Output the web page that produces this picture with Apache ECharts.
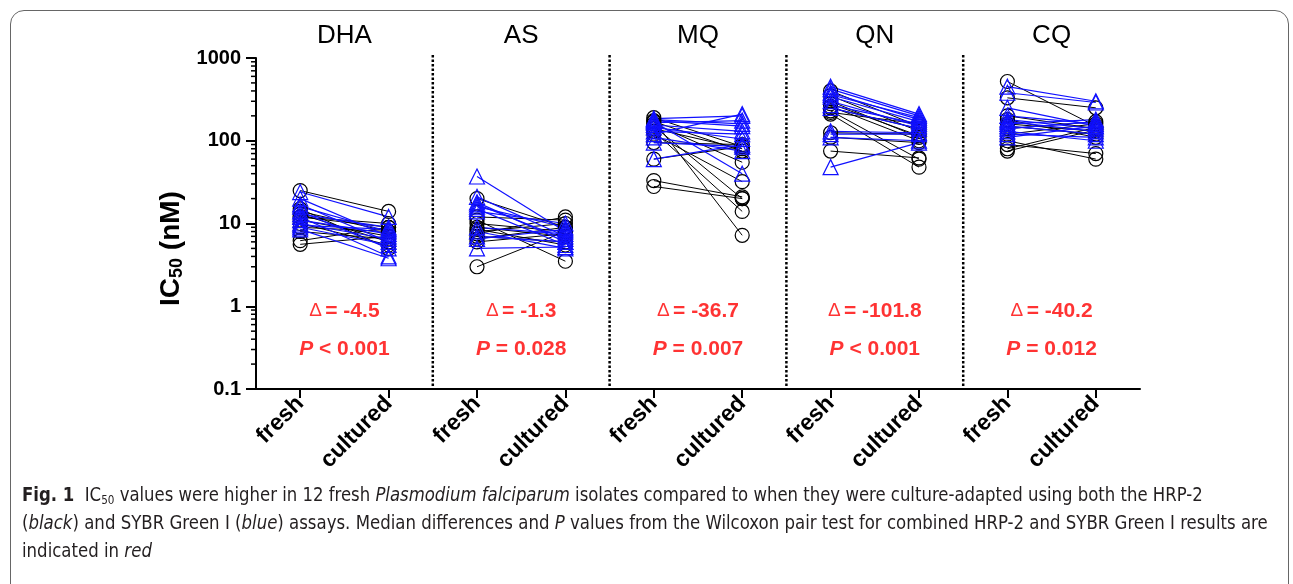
<!DOCTYPE html>
<html>
<head>
<meta charset="utf-8">
<script src="https://cdn.jsdelivr.net/npm/echarts@6/dist/echarts.min.js"></script>
<style>
  html, body { margin: 0; padding: 0; background: #fff; }
  #frame {
    position: absolute; left: 10px; top: 10px; width: 1279px; height: 620px;
    border: 1px solid #666; border-radius: 14px; box-sizing: border-box;
  }
  #chart { position: absolute; left: 0; top: 0; width: 1293px; height: 584px; }
  #caption {
    position: absolute; left: 22px; top: 480px; z-index: 2;
    font-family: "Liberation Sans Narrow", "DejaVu Sans Condensed", "Liberation Sans", sans-serif;
    font-size: 19px; line-height: 28px; color: #231f20;
  }
  #caption .l { white-space: nowrap; transform-origin: 0 50%; }
  #caption sub { font-size: 12px; vertical-align: -3px; line-height: 0; }
</style>
</head>
<body>
<div id="frame"></div>
<div id="chart"></div>
<div id="caption">
  <div class="l" data-w="1241"><b>Fig. 1</b>&nbsp; IC<sub>50</sub> values were higher in 12 fresh <i>Plasmodium falciparum</i> isolates compared to when they were culture-adapted using both the HRP-2</div>
  <div class="l" data-w="1246">(<i>black</i>) and SYBR Green I (<i>blue</i>) assays. Median differences and <i>P</i> values from the Wilcoxon pair test for combined HRP-2 and SYBR Green I results are</div>
  <div class="l">indicated in <i>red</i></div>
</div>
<script>
// groups and the two measurement points in each
const drugs = ['DHA', 'AS', 'MQ', 'QN', 'CQ'];
const conditions = ['fresh', 'cultured'];

// HRP-2 assay (black circles), 12 isolates per drug
const hrpFresh = [
  [25, 14, 12, 11, 13, 10, 9, 12, 8, 6.2, 5.6, 15],
  [20, 12, 10, 9, 8, 7.5, 7, 8.5, 6.5, 11, 6, 3.0],
  [190, 170, 150, 130, 160, 140, 95, 60, 33, 28, 175, 120],
  [400, 350, 300, 260, 230, 210, 250, 125, 110, 75, 220, 280],
  [520, 330, 200, 160, 150, 140, 120, 100, 90, 80, 75, 180]
];
const hrpCultured = [
  [14, 8, 9, 7, 6, 5.5, 8, 10, 6.5, 9, 7, 5],
  [9, 11, 8, 7, 10, 12, 6, 5.5, 9, 3.5, 7.5, 8],
  [85, 75, 20, 14, 55, 80, 90, 85, 21, 20, 7.2, 32],
  [150, 130, 110, 100, 60, 48, 140, 120, 95, 62, 160, 115],
  [150, 250, 140, 130, 120, 170, 160, 60, 70, 145, 135, 110]
];

// SYBR Green I assay (blue triangles)
const sybrFresh = [
  [24, 20, 17, 16, 14, 12, 10, 9, 11, 9.5, 13, 8.5],
  [37, 21, 18, 16, 15, 17, 9, 8, 7, 6.5, 5, 14],
  [185, 175, 165, 155, 145, 120, 95, 60, 170, 180, 130, 110],
  [450, 420, 380, 340, 300, 250, 130, 120, 110, 48, 270, 360],
  [450, 380, 250, 200, 180, 170, 160, 150, 140, 130, 120, 110]
];
const sybrCultured = [
  [12, 7, 6, 8, 5, 4, 6.5, 5.5, 7.5, 8.5, 9, 3.8],
  [8, 7, 6, 9, 5.5, 6.5, 7.5, 5, 6, 8.5, 5.2, 10],
  [200, 150, 175, 130, 105, 210, 85, 90, 40, 160, 120, 75],
  [210, 200, 180, 170, 150, 140, 125, 120, 100, 95, 160, 190],
  [300, 290, 150, 160, 140, 130, 180, 120, 170, 100, 110, 150]
];

// median differences and Wilcoxon P values
const deltaLabels = ['-4.5', '-1.3', '-36.7', '-101.8', '-40.2'];
const pLabels = ['< 0.001', '= 0.028', '= 0.007', '< 0.001', '= 0.012'];

const FONT = '"Liberation Sans", Arial, sans-serif';
const RED = '#ff0000';
const BLUE = '#1010ff';
const Y_MIN = 0.1;
const Y_MAX = 1000;

const chart = echarts.init(document.getElementById('chart'));

const xLabels = [];
drugs.forEach(() => conditions.forEach(c => xLabels.push(c)));
const xTickValues = xLabels.map((_, i) => i);
const groupCenters = drugs.map((_, i) => i * 2 + 0.5);
const separators = groupCenters.slice(0, -1).map(c => c + 1);

function pairSeries(fresh, cultured, color, symbol, size, width) {
  const out = [];
  drugs.forEach((d, di) => {
    fresh[di].forEach((v, k) => {
      out.push({
        type: 'line',
        data: [[di * 2, v], [di * 2 + 1, cultured[di][k]]],
        symbol: symbol,
        symbolSize: size,
        lineStyle: { color: color, width: width },
        itemStyle: { color: 'rgba(0,0,0,0)', borderColor: color, borderWidth: 1.2 },
        silent: true
      });
    });
  });
  return out;
}

// minor log ticks (2..9 of each decade)
const minorTicks = [];
for (let e = -1; e < 3; e++) {
  for (let m = 2; m <= 9; m++) minorTicks.push(+(m * Math.pow(10, e)).toPrecision(3));
}

const series = [];
series.push(...pairSeries(hrpFresh, hrpCultured, '#000', 'circle', 14, 1));
series.push(...pairSeries(sybrFresh, sybrCultured, BLUE, 'triangle', 15, 1.2));

// dotted separators between drugs
series.push({
  type: 'custom',
  silent: true,
  clip: false,
  data: separators.map(x => [x, Y_MAX]),
  renderItem: (params, api) => {
    const top = api.coord([api.value(0), Y_MAX]);
    const bot = api.coord([api.value(0), Y_MIN]);
    return {
      type: 'line',
      shape: { x1: top[0], y1: top[1] - 3, x2: bot[0], y2: bot[1] },
      style: { stroke: '#000', lineWidth: 2.5, lineDash: [2.5, 2] }
    };
  }
});

// delta and P annotations
series.push({
  type: 'scatter',
  symbolSize: 0,
  silent: true,
  data: groupCenters.map((c, i) => [c, 0.86, deltaLabels[i]]),
  label: {
    show: true,
    position: 'inside',
    formatter: p => '{d|Δ} {b|= ' + p.data[2] + '}',
    rich: {
      d: { fontSize: 19, fontFamily: FONT, color: RED, padding: [0, 0, 2, 0] },
      b: { fontSize: 21, fontWeight: 'bold', fontFamily: FONT, color: RED }
    }
  }
});
series.push({
  type: 'scatter',
  symbolSize: 0,
  silent: true,
  data: groupCenters.map((c, i) => [c, 0.3, pLabels[i]]),
  label: {
    show: true,
    position: 'inside',
    formatter: p => '{i|P}{b| ' + p.data[2] + '}',
    rich: {
      i: { fontSize: 21, fontWeight: 'bold', fontStyle: 'italic', fontFamily: FONT, color: RED },
      b: { fontSize: 21, fontWeight: 'bold', fontFamily: FONT, color: RED }
    }
  }
});

// minor ticks on the log axis
series.push({
  type: 'custom',
  silent: true,
  clip: false,
  data: minorTicks.map(v => [-0.5, v]),
  renderItem: (params, api) => {
    const pt = api.coord([api.value(0), api.value(1)]);
    return {
      type: 'line',
      shape: { x1: pt[0] - 5, y1: pt[1], x2: pt[0], y2: pt[1] },
      style: { stroke: '#000', lineWidth: 1.5 }
    };
  }
});

chart.setOption({
  animation: false,
  grid: { left: 256, right: 153, top: 58, bottom: 195 },
  xAxis: [{
    type: 'value',
    min: -0.5,
    max: 9.5,
    splitLine: { show: false },
    axisLine: { onZero: false, lineStyle: { color: '#000', width: 2 } },
    axisTick: { show: true, customValues: xTickValues, length: 9, lineStyle: { color: '#000', width: 2 } },
    axisLabel: {
      customValues: xTickValues,
      rotate: 45,
      margin: 11,
      fontSize: 23,
      fontWeight: 'bold',
      fontFamily: FONT,
      color: '#000',
      formatter: v => xLabels[Math.round(v)]
    }
  }, {
    type: 'value',
    position: 'top',
    min: -0.5,
    max: 9.5,
    splitLine: { show: false },
    axisLine: { show: false, onZero: false },
    axisTick: { show: false },
    axisLabel: {
      customValues: groupCenters,
      margin: 9,
      fontSize: 26,
      fontFamily: FONT,
      color: '#000',
      formatter: v => drugs[Math.round((v - 0.5) / 2)]
    }
  }],
  yAxis: {
    type: 'log',
    logBase: 10,
    min: Y_MIN,
    max: Y_MAX,
    splitLine: { show: false },
    axisLine: { show: true, onZero: false, lineStyle: { color: '#000', width: 2 } },
    axisTick: { show: true, length: 10, lineStyle: { color: '#000', width: 2 } },
    axisLabel: {
      margin: 15,
      fontSize: 20,
      fontWeight: 'bold',
      fontFamily: FONT,
      color: '#000',
      formatter: v => String(parseFloat((+v).toPrecision(3)))
    },
    name: '{b|IC}{s|50}{b| (nM)}',
    nameLocation: 'middle',
    nameRotate: 90,
    nameGap: 62,
    nameTextStyle: {
      padding: [0, 50, 0, 0],
      rich: {
        b: { fontSize: 28, fontWeight: 'bold', fontFamily: FONT, color: '#000' },
        s: { fontSize: 18, fontWeight: 'bold', fontFamily: FONT, color: '#000', verticalAlign: 'bottom', padding: [10, 0, 0, 0] }
      }
    }
  },
  series: series
});

// fit caption lines to the widths of the original layout
const lines = document.querySelectorAll('#caption .l');
let scale = 1;
lines.forEach(l => {
  const target = +l.dataset.w;
  if (target) {
    scale = target / l.scrollWidth;
    l.style.transform = 'scaleX(' + scale + ')';
  }
});
lines[2].style.transform = 'scaleX(' + scale + ')';
</script>
</body>
</html>
